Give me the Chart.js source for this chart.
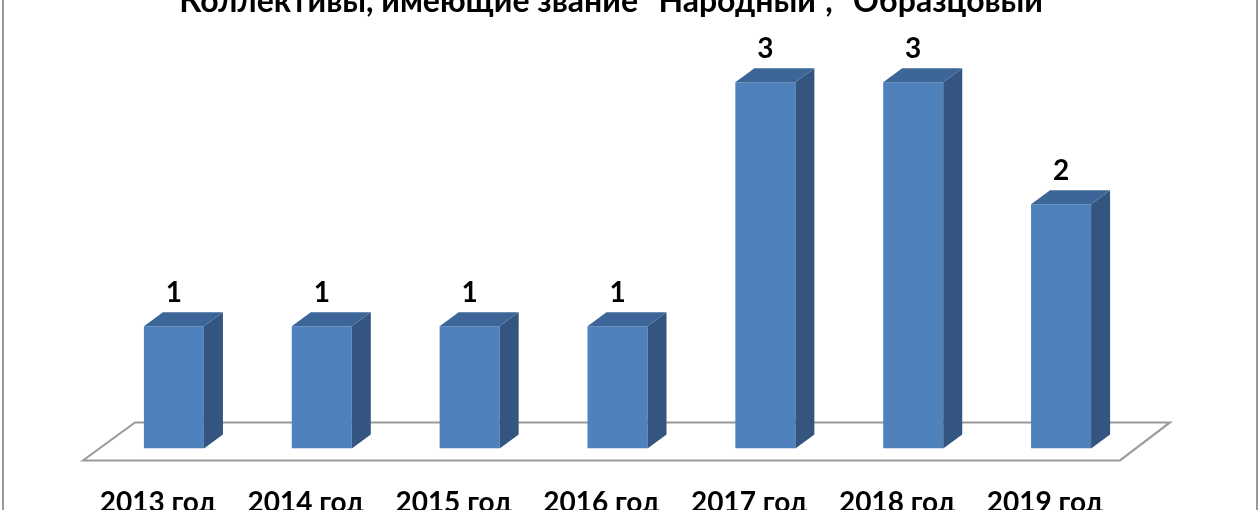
<!DOCTYPE html>
<html>
<head>
<meta charset="utf-8">
<script src="https://cdn.jsdelivr.net/npm/chart.js@4.4.1/dist/chart.umd.min.js"></script>
<style>
  html, body { margin: 0; padding: 0; width: 1260px; height: 510px; overflow: hidden; background: #ffffff; }
  #wrap { position: absolute; left: 0; top: -30px; width: 1260px; height: 608px; }
</style>
</head>
<body>
<div id="wrap"><canvas id="c" width="1260" height="608"></canvas></div>
<script>
const titleText = 'Коллективы, имеющие звание "Народный", "Образцовый"';
const categories = ['2013 год', '2014 год', '2015 год', '2016 год', '2017 год', '2018 год', '2019 год'];
const values = [1, 1, 1, 1, 3, 3, 2];

const FONT = 'Lato, "Open Sans", "Noto Sans", sans-serif';
const DX = 19, DY = 14;

const bar3d = {
  id: 'bar3d',
  beforeDatasetsDraw(chart) {
    const ctx = chart.ctx, a = chart.chartArea;
    const base = chart.scales.y.getPixelForValue(0);
    ctx.save();
    ctx.strokeStyle = '#9a9a9a';
    ctx.lineWidth = 2;
    ctx.beginPath();
    ctx.moveTo(a.left - 17, base + 12);
    ctx.lineTo(a.right - 15, base + 12);
    ctx.lineTo(a.right + 35, base - 26);
    ctx.lineTo(a.left + 35, base - 26);
    ctx.closePath();
    ctx.stroke();
    ctx.restore();
  },
  afterDatasetsDraw(chart) {
    const ctx = chart.ctx;
    const meta = chart.getDatasetMeta(0);
    ctx.save();
    meta.data.forEach((bar, i) => {
      const p = bar.getProps(['x', 'y', 'base', 'width'], true);
      const l = p.x - p.width / 2, r = p.x + p.width / 2, t = p.y, b = p.base;
      ctx.fillStyle = '#33557f';
      ctx.beginPath();
      ctx.moveTo(r, t); ctx.lineTo(r + DX, t - DY); ctx.lineTo(r + DX, b - DY); ctx.lineTo(r, b);
      ctx.closePath(); ctx.fill();
      ctx.fillStyle = '#3c6697';
      ctx.beginPath();
      ctx.moveTo(l, t); ctx.lineTo(l + DX, t - DY); ctx.lineTo(r + DX, t - DY); ctx.lineTo(r, t);
      ctx.closePath(); ctx.fill();
      ctx.fillStyle = '#000000';
      ctx.font = 'bold 28px ' + FONT;
      ctx.textAlign = 'center';
      ctx.textBaseline = 'middle';
      ctx.fillText(String(values[i]), p.x, t - 33);
    });
    ctx.restore();
  },
  afterDraw(chart) {
    const ctx = chart.ctx;
    ctx.save();
    ctx.strokeStyle = '#9a9a9a';
    ctx.lineWidth = 2;
    ctx.beginPath();
    ctx.moveTo(3, 0); ctx.lineTo(3, chart.height);
    ctx.moveTo(1257, 0); ctx.lineTo(1257, chart.height);
    ctx.stroke();
    ctx.restore();
  }
};

new Chart(document.getElementById('c'), {
  type: 'bar',
  data: {
    labels: categories,
    datasets: [{
      data: values,
      backgroundColor: '#4f81bd',
      borderWidth: 0,
      barPercentage: 0.406,
      categoryPercentage: 1.0
    }]
  },
  options: {
    responsive: false,
    animation: false,
    events: [],
    layout: { padding: { left: 100, right: 125, top: 0, bottom: 20 } },
    plugins: {
      legend: { display: false },
      tooltip: { enabled: false },
      title: {
        display: true,
        text: titleText,
        color: '#000000',
        font: { family: FONT, size: 32, weight: 'bold' },
        padding: { top: 12, bottom: 13 }
      }
    },
    scales: {
      x: {
        grid: { display: false, drawTicks: false },
        border: { display: false },
        ticks: {
          color: '#000000',
          font: { family: FONT, size: 28, weight: 'bold' },
          padding: 38,
          labelOffset: -16,
          maxRotation: 0,
          autoSkip: false
        }
      },
      y: {
        display: false,
        min: 0,
        max: 3.4
      }
    }
  },
  plugins: [bar3d]
});
</script>
</body>
</html>
